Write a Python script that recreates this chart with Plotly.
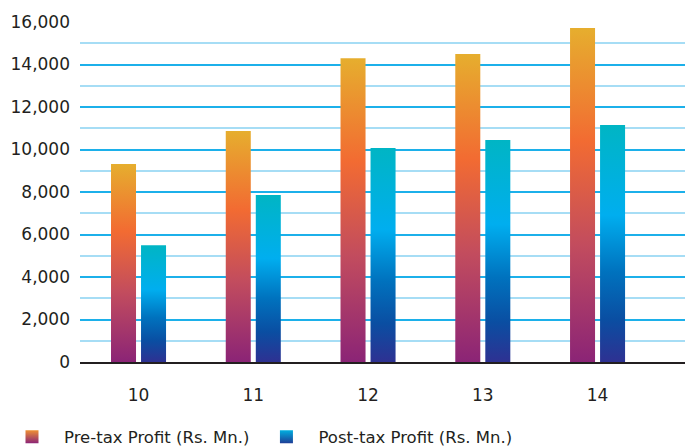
import plotly.graph_objects as go

# Financial years and profits (Rs. Mn.)
years = ["10", "11", "12", "13", "14"]
pre_tax = [9320, 10870, 14300, 14490, 15720]
post_tax = [5500, 7860, 10070, 10450, 11150]

series_names = ["Pre-tax Profit (Rs. Mn.)", "Post-tax Profit (Rs. Mn.)"]

# Vertical gradients, bottom (0) to top (1)
pre_scale = [[0.0, "#8B2476"], [0.35, "#C24C5E"], [0.66, "#F26B32"], [1.0, "#E6AE2E"]]
post_scale = [[0.0, "#2E3192"], [0.18, "#0A4EA2"], [0.38, "#0072BE"], [0.62, "#00AEEF"], [1.0, "#00B5C4"]]
# Legend swatches: top colour, bottom colour
pre_swatch = ("#EE8F33", "#8B2476")
post_swatch = ("#00AEDF", "#1E3D96")

bar_w = 0.218
gap = 0.0436

fig = go.Figure()

for s, (vals, scale, name) in enumerate(zip([pre_tax, post_tax], [pre_scale, post_scale], series_names)):
    for i, v in enumerate(vals):
        if s == 0:
            x0, x1 = i - gap / 2 - bar_w, i - gap / 2
        else:
            x0, x1 = i + gap / 2, i + gap / 2 + bar_w
        fig.add_trace(go.Scatter(
            x=[x0, x1, x1, x0, x0],
            y=[0, 0, v, v, 0],
            fill="toself",
            mode="none",
            fillgradient=dict(type="vertical", colorscale=scale, start=0, stop=v),
            name=name,
            legendgroup=name,
            showlegend=False,
            hoverinfo="skip",
        ))

# Square gradient swatches for the legend
for name, (top, bottom) in zip(series_names, [pre_swatch, post_swatch]):
    fig.add_trace(go.Scatter(
        x=[None], y=[None],
        mode="markers",
        marker=dict(symbol="square", size=13, color=top,
                    gradient=dict(type="vertical", color=bottom),
                    line=dict(width=0)),
        name=name,
        legendgroup=name,
        showlegend=True,
    ))

fig.update_layout(
    width=685,
    height=446,
    margin=dict(l=80, r=0, t=22, b=84),
    paper_bgcolor="white",
    plot_bgcolor="white",
    font=dict(family="DejaVu Sans, Liberation Sans, sans-serif", size=17, color="#231F20"),
    showlegend=True,
    legend=dict(
        orientation="h",
        xref="container",
        yref="container",
        x=-0.004,
        xanchor="left",
        y=0.02,
        yanchor="middle",
        font=dict(size=16.5),
        itemwidth=54,
        traceorder="normal",
    ),
)

fig.update_xaxes(
    range=[-0.51, 4.762],
    tickmode="array",
    tickvals=list(range(len(years))),
    ticktext=years,
    showgrid=False,
    zeroline=False,
    showline=True,
    linecolor="#231F20",
    linewidth=1.5,
    ticks="",
    ticklabelstandoff=17,
)

fig.update_yaxes(
    range=[0, 16000],
    dtick=2000,
    tickformat=",d",
    showgrid=True,
    gridcolor="#1CB0EA",
    gridwidth=1.5,
    zeroline=False,
    ticks="",
    ticklabelstandoff=9,
    minor=dict(dtick=1000, showgrid=True, gridcolor="#A6DDF5", gridwidth=1.5),
)

fig.write_html("out.html")
